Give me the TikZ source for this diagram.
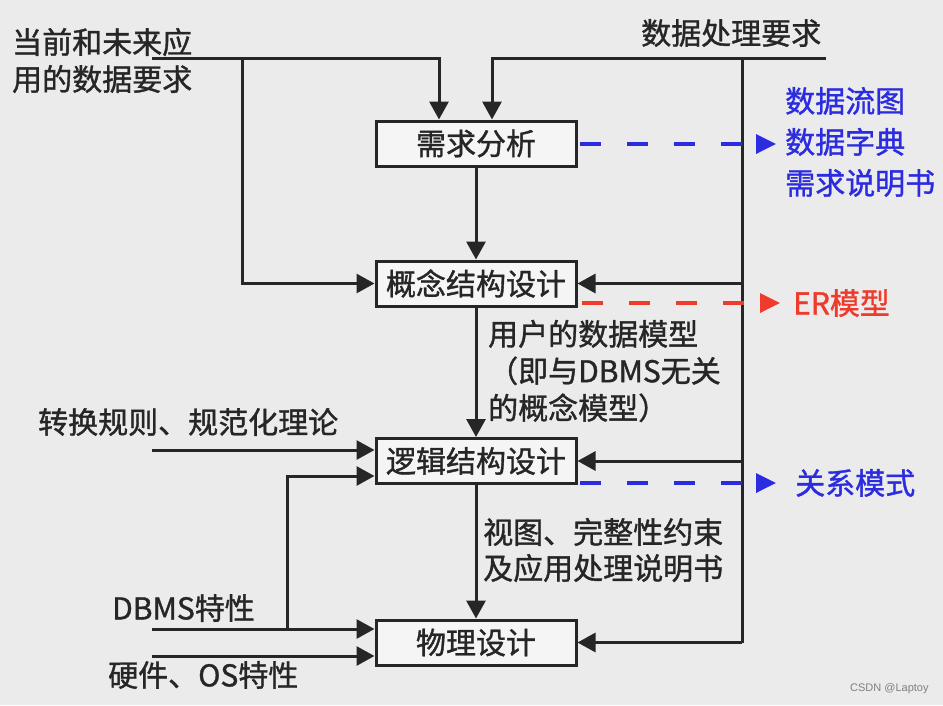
\documentclass[tikz,border=0pt]{standalone}
\usepackage{fontspec}
\setmainfont{Noto Sans CJK SC}[FakeBold=1.2]
\newfontfamily\wmfont{Liberation Sans}
\usetikzlibrary{arrows.meta}
\definecolor{bg}{HTML}{EBEBEB}
\definecolor{ink}{HTML}{262626}
\definecolor{dblue}{HTML}{2B2BE0}
\definecolor{dred}{HTML}{EE3B2B}
\begin{document}
\begin{tikzpicture}[x=1pt,y=-1pt,
  every node/.style={font=\fontsize{30}{37}\selectfont, text=ink},
  box/.style={draw=ink, line width=3pt, fill=black!4, minimum width=200pt, minimum height=45pt, inner sep=0pt},
  line/.style={draw=ink, line width=3pt},
  arr/.style={line, -{Triangle[length=18pt,width=19pt]}},
  darr/.style={line width=3.5pt, dash pattern=on 21pt off 26pt, -{Triangle[length=20pt,width=19pt]}},
  lbl/.style={align=left, inner sep=0pt, anchor=west}
]
\fill[bg] (0,0) rectangle (943,705);
\useasboundingbox (0,0) rectangle (943,705);

% boxes
\node[box] (b1) at (476,143.5) {需求分析};
\node[box] (b2) at (476,283.5) {概念结构设计};
\node[box] (b3) at (476,461) {逻辑结构设计};
\node[box] (b4) at (476,642.5) {物理设计};

% texts
\node[lbl] (tl) at (12,60.5) {当前和未来应\\用的数据要求};
\node[lbl] (tr) at (641,33) {数据处理要求};
\node[lbl, text=dblue, font=\fontsize{30}{41}\selectfont] (bo) at (785,142) {数据流图\\数据字典\\需求说明书};
\node[lbl, text=dred] (er) at (793,303) {ER模型};
\node[lbl] (um) at (488,371) {用户的数据模型\\（即与DBMS无关\\的概念模型）};
\node[lbl] (gz) at (38,422) {转换规则、规范化理论};
\node[lbl, text=dblue] (gx) at (795,483) {关系模式};
\node[lbl, font=\fontsize{30}{36}\selectfont] (vw) at (483,550) {视图、完整性约束\\及应用处理说明书};
\node[lbl] (db) at (112,608) {DBMS特性};
\node[lbl] (hw) at (108,675) {硬件、OS特性};
\node[lbl, font=\wmfont\fontsize{11}{13}\selectfont, text=black!50] (wm) at (850,689) {CSDN @Laptoy};

% coordinates
\coordinate (ls) at (152,58);
\coordinate (a1) at (439,58);
\coordinate (lj) at (242,58);
\coordinate (rs) at (826,58);
\coordinate (a2) at (492,58);
\coordinate (rj) at (742,58);
\coordinate (rb) at (742,642.5);
\coordinate (c1) at (152,450);
\coordinate (d1) at (152,629);
\coordinate (dj) at (287,629);
\coordinate (dt) at (287,476);
\coordinate (h1) at (152,656);
\coordinate (e1s) at (580,144);
\coordinate (e1t) at (776,144);
\coordinate (e2s) at (582,303);
\coordinate (e2t) at (780,303);
\coordinate (e3s) at (580,483);
\coordinate (e3t) at (776,483);

% connectors
\draw[arr] (ls) -- (a1) -- (a1 |- b1.north);
\draw[arr] (lj) |- (b2.west);
\draw[arr] (rs) -- (a2) -- (a2 |- b1.north);
\draw[line] (rj) -- (rb);
\draw[arr] (rj |- b2.east) -- (b2.east);
\draw[arr] (rj |- b3.east) -- (b3.east);
\draw[arr] (rb) -- (b4.east);
\draw[arr] (b1.south) -- (b2.north);
\draw[arr] (b2.south) -- (b3.north);
\draw[arr] (b3.south) -- (b4.north);
\draw[arr] (c1) -- (c1 -| b3.west);
\draw[arr] (d1) -- (d1 -| b4.west);
\draw[arr] (dj) -- (dt) -- (dt -| b3.west);
\draw[arr] (h1) -- (h1 -| b4.west);
\draw[darr, dblue] (e1s) -- (e1t);
\draw[darr, dred] (e2s) -- (e2t);
\draw[darr, dblue] (e3s) -- (e3t);
\end{tikzpicture}
\end{document}
